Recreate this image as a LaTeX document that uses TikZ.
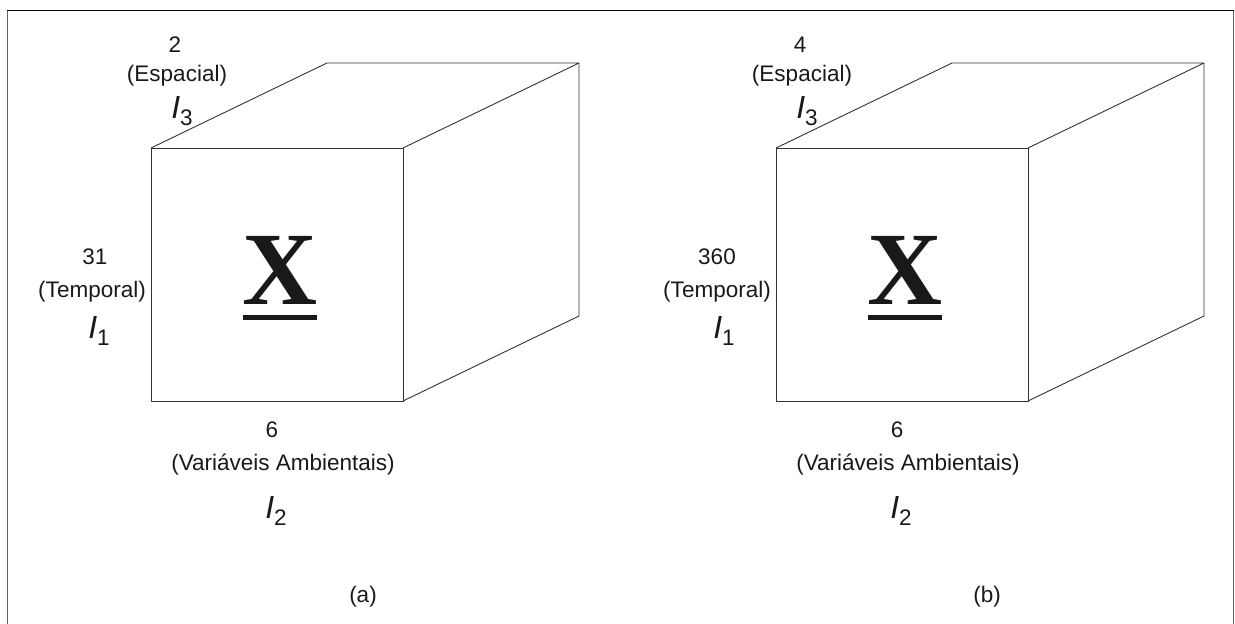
\documentclass[tikz,border=0pt]{standalone}
\usepackage{fontspec}
\setmainfont{Liberation Sans}
\newfontfamily\xserif{Liberation Serif}
\newcommand{\Ilab}[1]{{\fontsize{32}{32}\selectfont\itshape I}\raisebox{-7pt}{#1}}
\begin{document}
\begin{tikzpicture}[x=1pt,y=-1pt,
  lab/.style={inner sep=0pt,anchor=base,font=\fontsize{22.5}{26}\selectfont,text=black!90},
  edge/.style={draw=black!80,line width=0.9pt,line join=round},
  bigx/.style={inner sep=0pt,anchor=base,font=\xserif\bfseries\fontsize{104}{104}\selectfont,text=black!90}]
\useasboundingbox (0,0) rectangle (1235,624);
\clip (0,0) rectangle (1235,624);
% frame
\draw[black!60,line width=1.8pt] (7.5,640) -- (7.5,10.5);
\draw[black!60,line width=1.8pt] (1233.5,640) -- (1233.5,10.5);
\draw[black,line width=1.2pt] (7,10.5) -- (1234,10.5);
% cubes
\foreach \dx/\nm in {0/a,625/b}{
  \begin{scope}[xshift=\dx]
  \coordinate (\nm fl) at (151,148);
  \coordinate (\nm fr) at (403,148);
  \coordinate (\nm br) at (403,401);
  \coordinate (\nm bl) at (151,401);
  \coordinate (\nm tl) at (327,63);
  \coordinate (\nm tr) at (579,63);
  \coordinate (\nm rb) at (579,316);
  \draw[edge] (\nm fl) -- (\nm fr) -- (\nm br) -- (\nm bl) -- cycle;
  \draw[edge] (\nm fl) -- (\nm tl) -- (\nm tr) -- (\nm fr);
  \draw[edge] (\nm tr) -- (\nm rb) -- (\nm br);
  \end{scope}
}
% X symbols
\node[bigx] (xa) at (280,304) {X};
\fill[black!90] (243,314.5) rectangle (317,319.5);
\node[bigx] (xb) at (905,304) {X};
\fill[black!90] (868,314.5) rectangle (942,319.5);
% labels (a)
\node[lab] (a2) at (175,52) {2};
\node[lab] (aesp) at (177,81) {(Espacial)};
\node[lab] (ai3) at (182,118) {\Ilab{3}};
\node[lab] (a31) at (95,264) {31};
\node[lab] (atemp) at (92,297) {(Temporal)};
\node[lab] (ai1) at (99,338) {\Ilab{1}};
\node[lab] (a6) at (272,437) {6};
\node[lab] (avar) at (283,470) {(Variáveis Ambientais)};
\node[lab] (ai2) at (276,518) {\Ilab{2}};
\node[lab] (acap) at (363,602) {(a)};
% labels (b)
\node[lab] (b4) at (800,52) {4};
\node[lab] (besp) at (802,81) {(Espacial)};
\node[lab] (bi3) at (807,118) {\Ilab{3}};
\node[lab] (b360) at (717,264) {360};
\node[lab] (btemp) at (717,297) {(Temporal)};
\node[lab] (bi1) at (724,338) {\Ilab{1}};
\node[lab] (b6) at (897,437) {6};
\node[lab] (bvar) at (908,470) {(Variáveis Ambientais)};
\node[lab] (bi2) at (901,518) {\Ilab{2}};
\node[lab] (bcap) at (987,602) {(b)};
\end{tikzpicture}
\end{document}
